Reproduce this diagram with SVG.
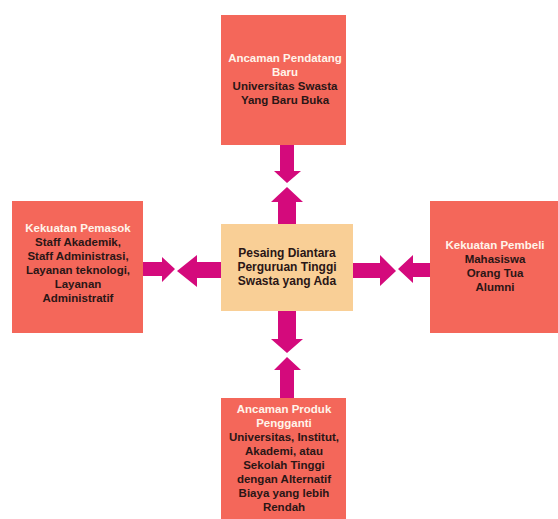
<svg xmlns="http://www.w3.org/2000/svg" width="558" height="519" viewBox="0 0 558 519">
<style>
.box{fill:#f4675a}
.ctr{fill:#f9cf96}
text{font-family:"Liberation Sans",Arial,sans-serif;font-weight:bold;font-size:11.5px;text-anchor:middle}
.t{fill:#fff4ea}
.d{fill:#2a1616}
.c{fill:#2a1616;font-size:12px}
.arr{fill:#d40a7c}
</style>
<rect width="558" height="519" fill="#ffffff"/>
<g id="top">
<rect class="box" x="221" y="15" width="125" height="130"/>
<text class="t" x="285" y="62">Ancaman Pendatang</text>
<text class="t" x="285" y="76">Baru</text>
<text class="d" x="285" y="90">Universitas Swasta</text>
<text class="d" x="285" y="104">Yang Baru Buka</text>
</g>
<g id="left">
<rect class="box" x="12" y="201" width="131" height="132"/>
<text class="t" x="78" y="232">Kekuatan Pemasok</text>
<text class="d" x="78" y="246">Staff Akademik,</text>
<text class="d" x="78" y="260">Staff Administrasi,</text>
<text class="d" x="78" y="274">Layanan teknologi,</text>
<text class="d" x="78" y="288">Layanan</text>
<text class="d" x="78" y="302">Administratif</text>
</g>
<g id="right">
<rect class="box" x="430" y="201" width="128" height="132"/>
<text class="t" x="495" y="249">Kekuatan Pembeli</text>
<text class="d" x="495" y="263">Mahasiswa</text>
<text class="d" x="495" y="277">Orang Tua</text>
<text class="d" x="495" y="291">Alumni</text>
</g>
<g id="bottom">
<rect class="box" x="221" y="398" width="125" height="121"/>
<text class="t" x="284" y="413">Ancaman Produk</text>
<text class="t" x="284" y="427">Pengganti</text>
<text class="d" x="284" y="441">Universitas, Institut,</text>
<text class="d" x="284" y="455">Akademi, atau</text>
<text class="d" x="284" y="469">Sekolah Tinggi</text>
<text class="d" x="284" y="483">dengan Alternatif</text>
<text class="d" x="284" y="497">Biaya yang lebih</text>
<text class="d" x="284" y="511">Rendah</text>
</g>
<g id="center">
<rect class="ctr" x="221" y="224" width="132" height="87"/>
<text class="c" x="287" y="257">Pesaing Diantara</text>
<text class="c" x="287" y="271">Perguruan Tinggi</text>
<text class="c" x="287" y="285">Swasta yang Ada</text>
</g>
<g id="connectors">
<polygon class="arr" points="280,145 294,145 294,171 301,171 287,183 274,171 280,171"/>
<polygon class="arr" points="278,224 296,224 296,202 303,202 287,187 271,202 278,202"/>
<polygon class="arr" points="221,262 221,278 197,278 197,287 177,271 197,255 197,262"/>
<polygon class="arr" points="143,262 143,276 162,276 162,282 175,269 162,257 162,262"/>
<polygon class="arr" points="353,263 353,278 380,278 380,286 396,271 380,255 380,263"/>
<polygon class="arr" points="430,263 430,277 413,277 413,283 398,269 413,255 413,263"/>
<polygon class="arr" points="278,311 296,311 296,339 303,339 287,353 271,339 278,339"/>
<polygon class="arr" points="280,398 294,398 294,370 301,370 287,357 274,370 280,370"/>
</g>
</svg>
